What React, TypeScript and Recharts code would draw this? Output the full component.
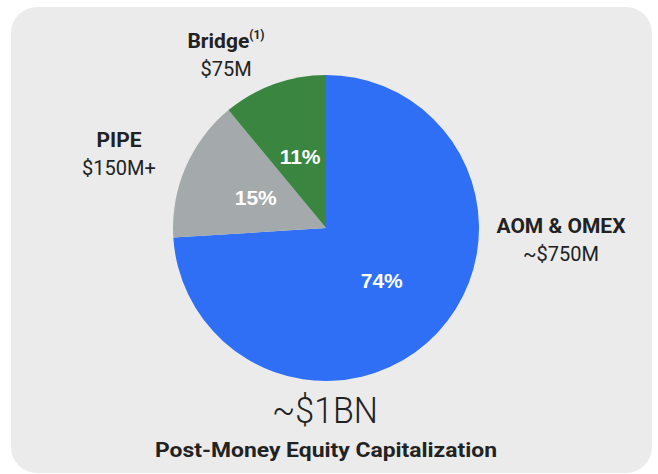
import React from 'react';
import { PieChart, Pie, Cell } from 'recharts';

const segments = ['AOM & OMEX', 'PIPE', 'Bridge'];
const shares = [74, 15, 11];
const amounts = ['~$750M', '$150M+', '$75M'];
const colors = ['#2f6ff6', '#a4a9ab', '#3a8641'];
const totalLabel = '~$1BN';
const caption = 'Post-Money Equity Capitalization';

const data = segments.map((name, i) => ({ name, value: shares[i] }));

const RAD = Math.PI / 180;
const FONT = 'Roboto, "Noto Sans", sans-serif';

const renderPct = (props: any) => {
  const { cx, cy, midAngle, outerRadius, index } = props;
  const r = outerRadius * 0.5;
  const x = cx + r * Math.cos(-midAngle * RAD);
  const y = cy + r * Math.sin(-midAngle * RAD);
  return (
    <text
      x={x}
      y={y}
      fill="#ffffff"
      textAnchor="middle"
      dominantBaseline="central"
      fontFamily='"Liberation Sans", Arial, sans-serif'
      fontWeight={700}
      fontSize={21}
    >
      {`${shares[index]}%`}
    </text>
  );
};

// anchor positions for the outside annotations (layout only)
const outside = [
  { x: 561, y: 233 },
  { x: 119, y: 147 },
  { x: 226, y: 48 },
];

export default function App() {
  return (
    <div style={{ position: 'absolute', left: 0, top: 0, width: 658, height: 474, background: '#ffffff' }}>
      <div
        style={{
          position: 'absolute',
          left: 11,
          top: 7,
          width: 641,
          height: 466,
          background: '#ebebeb',
          borderRadius: 26,
        }}
      />
      <div style={{ position: 'absolute', left: 0, top: 0 }}>
        <PieChart width={658} height={474} margin={{ top: 0, right: 0, bottom: 0, left: 0 }}>
          <Pie
            data={data}
            dataKey="value"
            nameKey="name"
            cx={326}
            cy={228}
            outerRadius={153}
            startAngle={90}
            endAngle={-270}
            stroke="none"
            isAnimationActive={false}
            labelLine={false}
            label={renderPct}
          >
            {data.map((d, i) => (
              <Cell key={d.name} fill={colors[i]} />
            ))}
          </Pie>
        </PieChart>
      </div>
      <svg
        width={658}
        height={474}
        style={{ position: 'absolute', left: 0, top: 0, pointerEvents: 'none' }}
      >
        {segments.map((name, i) => (
          <g key={name}>
            <text
              x={outside[i].x}
              y={outside[i].y}
              textAnchor="middle"
              fontFamily={FONT}
              fontWeight={700}
              fontSize={21}
              fill="#222222"
            >
              {name}
              {i === 2 ? (
                <tspan fontSize={12} dy={-9}>
                  (1)
                </tspan>
              ) : null}
            </text>
            <text
              x={outside[i].x}
              y={outside[i].y + 28}
              textAnchor="middle"
              fontFamily={FONT}
              fontWeight={400}
              fontSize={20}
              fill="#222222"
            >
              {amounts[i]}
            </text>
          </g>
        ))}
        <text
          x={325}
          y={423}
          textAnchor="middle"
          fontFamily={FONT}
          fontWeight={300}
          fontSize={37}
          fill="#222222"
          textLength={106}
          lengthAdjust="spacingAndGlyphs"
        >
          {totalLabel}
        </text>
        <text
          x={326}
          y={457}
          textAnchor="middle"
          fontFamily={FONT}
          fontWeight={700}
          fontSize={21}
          fill="#222222"
          textLength={342}
          lengthAdjust="spacingAndGlyphs"
        >
          {caption}
        </text>
      </svg>
    </div>
  );
}
